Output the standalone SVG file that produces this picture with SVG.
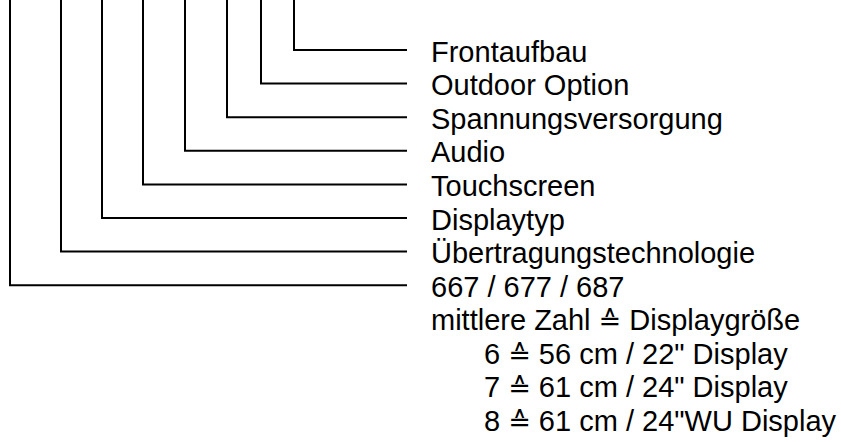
<svg xmlns="http://www.w3.org/2000/svg" width="841" height="442" viewBox="0 0 841 442">
<style>
.c{fill:none;stroke:#000;stroke-width:2;stroke-linejoin:miter}
.t{font-family:"Liberation Sans",Arial,sans-serif;font-size:29px;fill:#000}
.s{font-family:"DejaVu Sans",sans-serif;font-size:27px}
</style>
<rect width="841" height="442" fill="#fff"/>
<g id="connectors">
<polyline class="c" points="294,0 294,50 407,50"/>
<polyline class="c" points="261,0 261,83.6 407,83.6"/>
<polyline class="c" points="227,0 227,117.2 407,117.2"/>
<polyline class="c" points="185,0 185,150.8 407,150.8"/>
<polyline class="c" points="143,0 143,184.4 407,184.4"/>
<polyline class="c" points="102,0 102,218 407,218"/>
<polyline class="c" points="61,0 61,251.6 407,251.6"/>
<polyline class="c" points="10,0 10,285.2 407,285.2"/>
</g>
<g id="frontaufbau"><text class="t" x="431" y="61.5">Frontaufbau</text></g>
<g id="outdoor"><text class="t" x="431" y="95">Outdoor Option</text></g>
<g id="spannung"><text class="t" x="431" y="128.5">Spannungsversorgung</text></g>
<g id="audio"><text class="t" x="431" y="162">Audio</text></g>
<g id="touch"><text class="t" x="431" y="196">Touchscreen</text></g>
<g id="displaytyp"><text class="t" x="431" y="229.5">Displaytyp</text></g>
<g id="uebertragung"><text class="t" x="431" y="263">Übertragungstechnologie</text></g>
<g id="modell">
<text class="t" x="431" y="296.5">667 / 677 / 687</text>
<text class="t" x="431" y="330">mittlere Zahl <tspan class="s">≙</tspan> Displaygröße</text>
<text class="t" x="484" y="363.5">6 <tspan class="s">≙</tspan> 56 cm / 22" Display</text>
<text class="t" x="484" y="397">7 <tspan class="s">≙</tspan> 61 cm / 24" Display</text>
<text class="t" x="484" y="430.5">8 <tspan class="s">≙</tspan> 61 cm / 24"WU Display</text>
</g>
</svg>
